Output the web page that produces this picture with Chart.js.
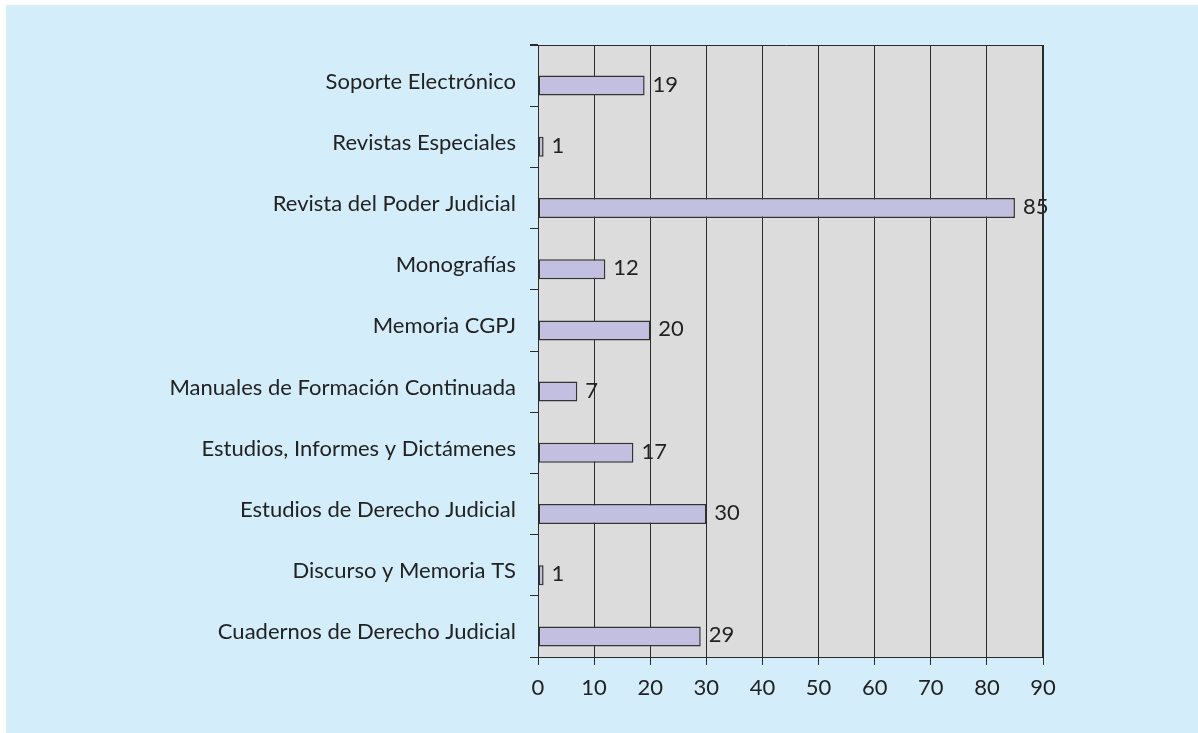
<!DOCTYPE html>
<html>
<head>
<meta charset="utf-8">
<script src="https://cdn.jsdelivr.net/npm/chart.js@4"></script>
<style>
  html, body { margin: 0; padding: 0; background: #fff; }
  #wrap { position: absolute; left: 6px; top: 5px; width: 1192px; height: 728px; background: #d3eefa; }
</style>
</head>
<body>
<div id="wrap"><canvas id="grafico" width="1192" height="728"></canvas></div>
<script>
// --- Datos ---
const categorias = [
  'Soporte Electrónico',
  'Revistas Especiales',
  'Revista del Poder Judicial',
  'Monografías',
  'Memoria CGPJ',
  'Manuales de Formación Continuada',
  'Estudios, Informes y Dictámenes',
  'Estudios de Derecho Judicial',
  'Discurso y Memoria TS',
  'Cuadernos de Derecho Judicial'
];
const publicaciones = [19, 1, 85, 12, 20, 7, 17, 30, 1, 29];
const ticksX = [0, 10, 20, 30, 40, 50, 60, 70, 80, 90];

const FUENTE = 'Lato, sans-serif';
const TINTA = '#222';

// fondo gris del área de trazado + marco superior/derecho
const fondoArea = {
  id: 'fondoArea',
  beforeDraw(chart) {
    const { ctx, chartArea: a } = chart;
    ctx.save();
    ctx.fillStyle = '#dcdcdc';
    ctx.fillRect(a.left, a.top, a.right - a.left, a.bottom - a.top);
    ctx.restore();
  },
  afterDraw(chart) {
    const { ctx, chartArea: a } = chart;
    ctx.save();
    ctx.strokeStyle = '#2a2a2a';
    ctx.lineWidth = 1;
    ctx.beginPath();
    ctx.moveTo(a.left - 8, a.top + 0.5);
    ctx.lineTo(a.right, a.top + 0.5);
    ctx.stroke();
    ctx.lineWidth = 2;
    ctx.beginPath();
    ctx.moveTo(a.right, a.top);
    ctx.lineTo(a.right, a.bottom);
    ctx.stroke();
    ctx.restore();
  }
};

// etiquetas de valor al final de cada barra
const etiquetas = {
  id: 'etiquetas',
  afterDatasetsDraw(chart) {
    const { ctx } = chart;
    const meta = chart.getDatasetMeta(1);
    ctx.save();
    ctx.font = '22px ' + FUENTE;
    ctx.fillStyle = TINTA;
    ctx.textAlign = 'left';
    ctx.textBaseline = 'middle';
    meta.data.forEach((bar, i) => {
      ctx.fillText(String(publicaciones[i]), bar.x + 8, bar.y - 1);
    });
    ctx.restore();
  }
};

new Chart(document.getElementById('grafico'), {
  type: 'bar',
  data: {
    labels: categorias,
    datasets: [
      // hueco vacío: en el original la barra va en la mitad inferior de cada franja
      { data: categorias.map(() => null), backgroundColor: 'rgba(0,0,0,0)' },
      {
        data: publicaciones,
        backgroundColor: '#c3bfe0',
        borderColor: '#333',
        borderWidth: 1.5,
        borderSkipped: false
      }
    ]
  },
  options: {
    indexAxis: 'y',
    responsive: false,
    animation: false,
    datasets: { bar: { categoryPercentage: 0.654, barPercentage: 1 } },
    layout: { padding: { top: 40, right: 155, left: 0, bottom: 0 } },
    plugins: { legend: { display: false }, tooltip: { enabled: false } },
    scales: {
      x: {
        min: 0, max: 90,
        afterBuildTicks: s => { s.ticks = ticksX.map(v => ({ value: v })); },
        afterFit: s => { s.height = 76; },
        border: { display: true, color: '#2a2a2a', width: 1 },
        grid: { color: '#2a2a2a', lineWidth: 1, tickLength: 8, drawOnChartArea: true },
        ticks: { color: TINTA, font: { family: FUENTE, size: 22 }, padding: 10 }
      },
      y: {
        afterFit: s => { s.width = 532; },
        border: { display: true, color: '#2a2a2a', width: 1 },
        grid: { offset: true, color: '#2a2a2a', tickLength: 8, drawOnChartArea: false },
        ticks: { color: TINTA, font: { family: FUENTE, size: 22 }, padding: 14, labelOffset: 6 }
      }
    }
  },
  plugins: [fondoArea, etiquetas]
});
</script>
</body>
</html>
